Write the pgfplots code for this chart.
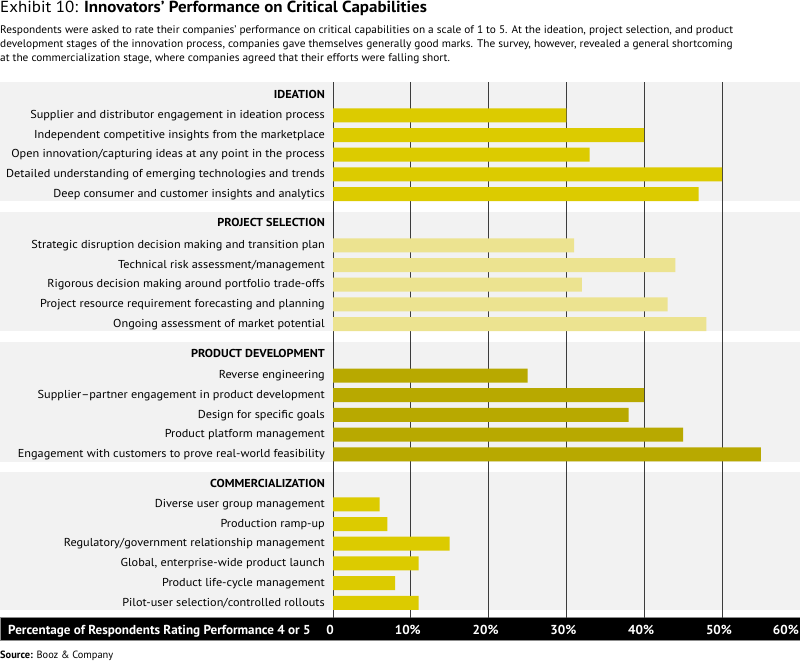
\documentclass[border=0pt]{standalone}
\usepackage{pgfplots}
\pgfplotsset{compat=1.18}
\usepackage{fontspec}
\setmainfont{PT Sans}
\newfontfamily\lab{PT Sans}[FakeStretch=1.065]
\newfontfamily\sub{PT Sans}[FakeStretch=1.03]
\newfontfamily\ttl{PT Sans}[FakeStretch=1.06]
\newfontfamily\cond{PT Sans}[FakeStretch=1.01]
\newfontfamily\src{PT Sans}[FakeStretch=0.99]
\definecolor{panel}{HTML}{F2F2F2}
\definecolor{yelA}{HTML}{DCCB00}
\definecolor{yelB}{HTML}{ECE390}
\definecolor{yelC}{HTML}{B8A900}
\definecolor{gridc}{HTML}{3C3C3C}
\begin{document}
\begin{tikzpicture}[x=1pt,y=1pt]
\path[use as bounding box] (0pt,0pt) rectangle (800pt,-661pt);
% panels
\fill[panel] (0pt,-81.7pt) rectangle (800pt,-201pt);
\fill[panel] (0pt,-211.7pt) rectangle (800pt,-331pt);
\fill[panel] (0pt,-341.7pt) rectangle (800pt,-461.7pt);
\fill[panel] (0pt,-472.3pt) rectangle (800pt,-610pt);
% bottom band
\fill[black, draw=black!45, line width=0.8pt] (0pt,-617.7pt) rectangle (800pt,-640.6pt);
\node[anchor=base west, inner sep=0, text=white] at (8pt,-634.3pt) {\cond\bfseries\fontsize{13}{14}\selectfont Percentage of Respondents Rating Performance 4 or 5};
% title and subtitle
\node[anchor=base west,inner sep=0] at (0pt,-12.7pt) {\ttl\fontsize{16}{18}\selectfont Exhibit 10: \textbf{Innovators’ Performance on Critical Capabilities}};
\node[anchor=base west,inner sep=0] at (0pt,-33.3pt) {\sub\fontsize{11}{13}\selectfont Respondents were asked to rate their companies’ performance on critical capabilities on a scale of 1 to 5. At the ideation, project selection, and product};
\node[anchor=base west,inner sep=0] at (0pt,-47.3pt) {\sub\fontsize{11}{13}\selectfont development stages of the innovation process, companies gave themselves generally good marks. The survey, however, revealed a general shortcoming};
\node[anchor=base west,inner sep=0] at (0pt,-61.3pt) {\sub\fontsize{11}{13}\selectfont at the commercialization stage, where companies agreed that their efforts were falling short.};
\node[anchor=base west,inner sep=0] at (0pt,-658.3pt) {\src\fontsize{10.5}{12}\selectfont\textbf{Source:} Booz \& Company};
\begin{axis}[
  at={(333pt,-617.7pt)}, anchor=south west,
  scale only axis, width=466.8pt, height=536pt,
  xmin=0, xmax=60, ymin=-617.7, ymax=-81.7,
  clip=false,
  axis line style={draw=none},
  major tick length=0pt,
  xtick={0,10,20,30,40,50},
  xticklabels={0,10\%,20\%,30\%,40\%,50\%},
  extra x ticks={60},
  extra x tick labels={\makebox[0pt][r]{60\%\hspace{-2pt}}},
  extra x tick style={grid=none},
  xmajorgrids,
  grid style={gridc, line width=0.9pt},
  xticklabel style={anchor=base, yshift=-16.6pt, xshift=-3pt, text=white, font=\cond\bfseries\fontsize{13}{14}\selectfont},
  ytick={-95,-115.3,-135,-154.7,-174.4,-194,
         -223.7,-245.3,-265,-284.7,-304.4,-324,
         -354,-375.5,-395.2,-414.9,-434.6,-454.3,
         -484,-504.3,-524,-543.7,-563.4,-583.1,-602.8},
  yticklabels={\textbf{IDEATION},
    Supplier and distributor engagement in ideation process,
    Independent competitive insights from the marketplace,
    Open innovation/capturing ideas at any point in the process,
    Detailed understanding of emerging technologies and trends,
    Deep consumer and customer insights and analytics,
    \textbf{PROJECT SELECTION},
    Strategic disruption decision making and transition plan,
    Technical risk assessment/management,
    Rigorous decision making around portfolio trade-offs,
    Project resource requirement forecasting and planning,
    Ongoing assessment of market potential,
    \textbf{PRODUCT DEVELOPMENT},
    Reverse engineering,
    Supplier–partner engagement in product development,
    Design for specific goals,
    Product platform management,
    Engagement with customers to prove real-world feasibility,
    \textbf{COMMERCIALIZATION},
    Diverse user group management,
    Production ramp-up,
    Regulatory/government relationship management,
    {Global, enterprise-wide product launch},
    Product life-cycle management,
    Pilot-user selection/controlled rollouts},
  yticklabel style={anchor=east, inner sep=0pt, xshift=-8pt, yshift=0.8pt, text height=8pt, text depth=0pt, font=\lab\fontsize{11.5}{13}\selectfont},
]
\addplot[xbar, bar width=14pt, bar shift=0pt, fill=yelA, draw=none] coordinates {
 (30,-115.3) (40,-135) (33,-154.7) (50,-174.4) (47,-194)};
\addplot[xbar, bar width=14pt, bar shift=0pt, fill=yelB, draw=none] coordinates {
 (31,-245.3) (44,-265) (32,-284.7) (43,-304.4) (48,-324)};
\addplot[xbar, bar width=14pt, bar shift=0pt, fill=yelC, draw=none] coordinates {
 (25,-375.5) (40,-395.2) (38,-414.9) (45,-434.6) (55,-454.3)};
\addplot[xbar, bar width=14pt, bar shift=0pt, fill=yelA, draw=none] coordinates {
 (6,-504.3) (7,-524) (15,-543.7) (11,-563.4) (8,-583.1) (11,-602.8)};
\end{axis}
\end{tikzpicture}
\end{document}
